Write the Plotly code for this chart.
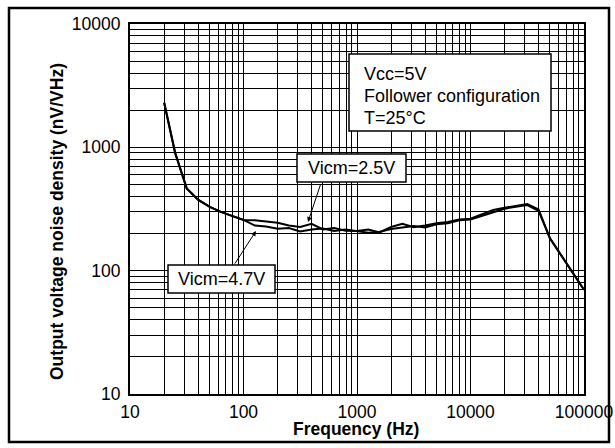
import plotly.graph_objects as go

# ---- data ----
freq_hz = [20, 25, 31.6, 40, 50, 63, 79, 100, 126, 158, 200, 251, 316, 398, 501, 631,
           794, 1000, 1259, 1585, 1995, 2512, 3162, 3981, 5012, 6310, 7943, 10000,
           12589, 15849, 19953, 25119, 31623, 39811, 50119, 100000]
noise_vicm_2v5 = [2300, 900, 465, 375, 330, 300, 278, 258, 256, 250, 245, 232, 226, 240,
                  216, 222, 211, 210, 216, 204, 226, 240, 225, 232, 242, 248, 260, 264,
                  284, 310, 324, 335, 347, 314, 183, 70]
noise_vicm_4v7 = [2300, 900, 465, 375, 330, 300, 278, 258, 232, 228, 219, 222, 208, 216,
                  220, 210, 216, 208, 203, 207, 218, 224, 230, 224, 238, 242, 256, 260,
                  278, 300, 318, 330, 340, 306, 183, 70]

x_tickvals = [10, 100, 1000, 10000, 100000]
x_ticktext = ["10", "100", "1000", "10000", "100000"]
y_tickvals = [10, 100, 1000, 10000]
y_ticktext = ["10", "100", "1000", "10000"]

FONT = "Arial, Liberation Sans, sans-serif"

fig = go.Figure()
fig.add_trace(go.Scatter(x=freq_hz, y=noise_vicm_2v5, mode="lines", name="Vicm=2.5V",
                         line=dict(color="black", width=2)))
fig.add_trace(go.Scatter(x=freq_hz, y=noise_vicm_4v7, mode="lines", name="Vicm=4.7V",
                         line=dict(color="black", width=2)))

W, H = 615, 448
L, R, T, B = 130, 31, 24, 54
pw, ph = W - L - R, H - T - B


def px(x):
    return (x - L) / pw


def py(y):
    return (H - B - y) / ph


axis_common = dict(
    type="log", automargin=False, showgrid=True, gridcolor="black", gridwidth=1,
    minor=dict(dtick="D1", showgrid=True, gridcolor="black", gridwidth=1, ticks=""),
    showline=True, linecolor="black", linewidth=2, mirror=True,
    ticks="outside", tickcolor="rgba(0,0,0,0)",
    tickfont=dict(family=FONT, size=17.5, color="black"), zeroline=False,
)

fig.update_layout(
    width=W, height=H, margin=dict(l=L, r=R, t=T, b=B, autoexpand=False),
    paper_bgcolor="white", plot_bgcolor="white", showlegend=False,
    xaxis=dict(axis_common, range=[1, 5], tickvals=x_tickvals, ticktext=x_ticktext, ticklen=1),
    yaxis=dict(axis_common, range=[1, 4], tickvals=y_tickvals, ticktext=y_ticktext, ticklen=4),
)

frame = dict(color="black", width=2.5)
shapes = [
    # outer frame
    dict(type="rect", xref="paper", yref="paper", x0=px(9), x1=px(609), y0=py(442), y1=py(8),
         line=frame, fillcolor="rgba(0,0,0,0)", layer="above"),
    # condition box
    dict(type="rect", xref="paper", yref="paper", x0=px(349), x1=px(551), y0=py(131), y1=py(54),
         line=dict(color="black", width=1.5), fillcolor="white", layer="above"),
    # Vicm=2.5V box
    dict(type="rect", xref="paper", yref="paper", x0=px(297), x1=px(406), y0=py(182), y1=py(154),
         line=dict(color="black", width=1.5), fillcolor="white", layer="above"),
    # Vicm=4.7V box
    dict(type="rect", xref="paper", yref="paper", x0=px(168), x1=px(275), y0=py(293), y1=py(265),
         line=dict(color="black", width=1.5), fillcolor="white", layer="above"),
]
fig.update_layout(shapes=shapes)

tf = dict(family=FONT, size=18, color="black")
title_font = dict(family=FONT, size=17.5, color="black")
ann = []
# axis titles
ann.append(dict(xref="paper", yref="paper", x=px(355.5), y=py(429),
                text="<b>Frequency (Hz)</b>", xanchor="center", yanchor="middle",
                showarrow=False, font=title_font))
ann.append(dict(xref="paper", yref="paper", x=px(57), y=py(222),
                text="<b>Output voltage noise density (nV/VHz)</b>", textangle=-90,
                xanchor="center", yanchor="middle", showarrow=False, font=title_font))
for txt, yc in [("Vcc=5V", 74), ("Follower configuration", 96), ("T=25°C", 118)]:
    ann.append(dict(xref="paper", yref="paper", x=px(362), y=py(yc), text=txt,
                    xanchor="left", yanchor="middle", showarrow=False, font=tf))
ann.append(dict(xref="paper", yref="paper", x=px(351.5), y=py(168), text="Vicm=2.5V",
                xanchor="center", yanchor="middle", showarrow=False, font=tf))
ann.append(dict(xref="paper", yref="paper", x=px(221.5), y=py(279), text="Vicm=4.7V",
                xanchor="center", yanchor="middle", showarrow=False, font=tf))
# arrows
ann.append(dict(xref="paper", yref="paper", x=px(308), y=py(222), text="", showarrow=True,
                ax=13, ay=-39, arrowhead=2, arrowsize=1, arrowwidth=1, arrowcolor="black",
                standoff=0, startstandoff=0))
ann.append(dict(xref="paper", yref="paper", x=px(256), y=py(231), text="", showarrow=True,
                ax=-22, ay=34, arrowhead=2, arrowsize=1, arrowwidth=1, arrowcolor="black",
                standoff=0, startstandoff=0))
fig.update_layout(annotations=ann)

fig.write_html(
    "out.html", config={"displayModeBar": False},
    post_script="document.body.style.margin='0';document.body.style.overflow='hidden';",
)
